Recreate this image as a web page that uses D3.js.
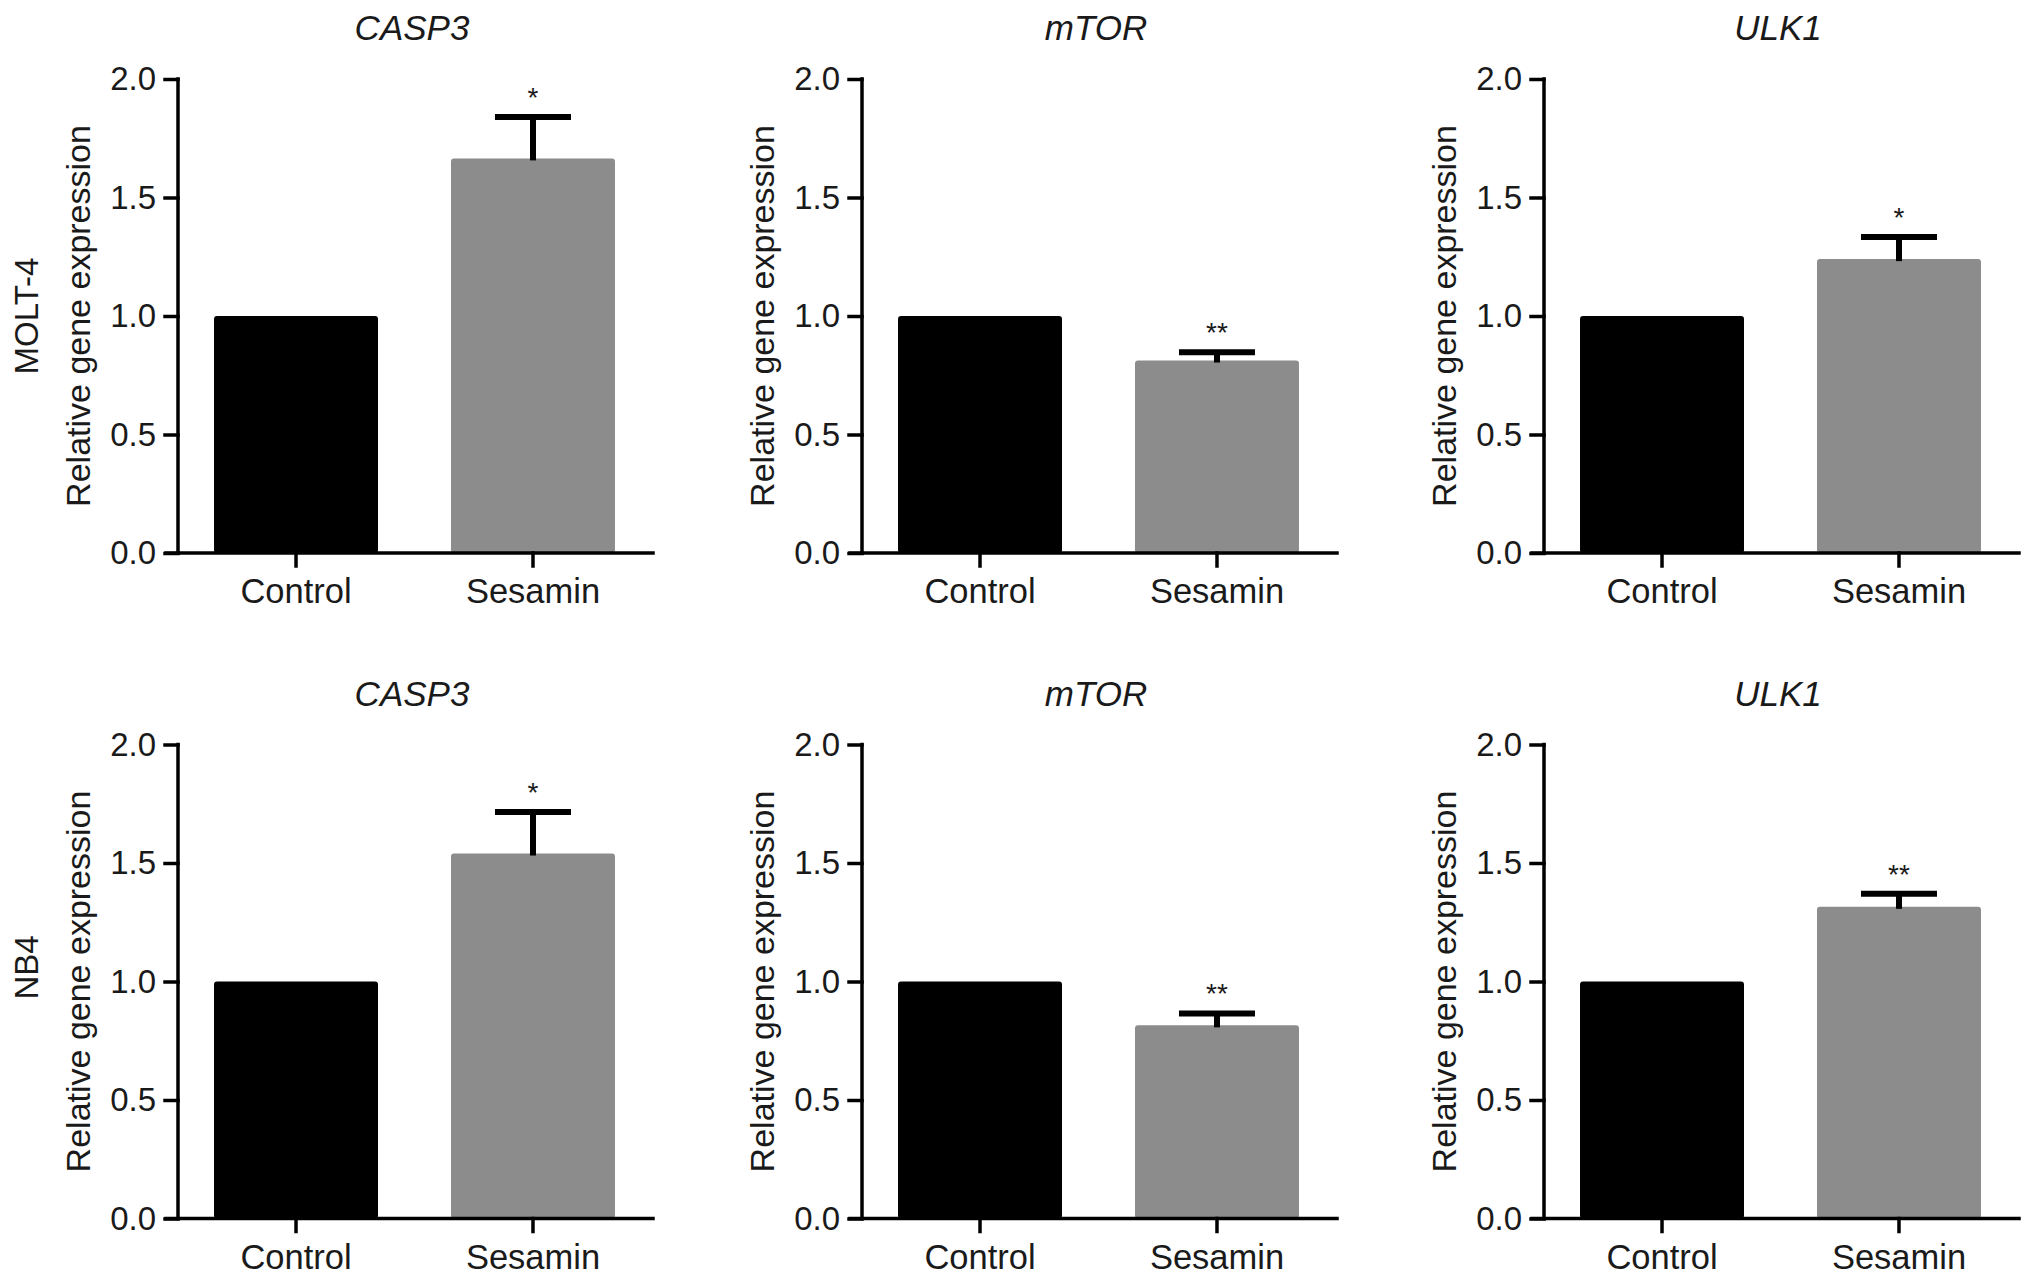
<!DOCTYPE html>
<html>
<head>
<meta charset="utf-8">
<script src="https://cdn.jsdelivr.net/npm/d3@7"></script>
<style>
  body { margin: 0; background: #fff; }
  svg { display: block; font-family: "Liberation Sans", Arial, Helvetica, sans-serif; }
</style>
</head>
<body>
<svg id="chart" width="2032" height="1283"></svg>
<script>
///////////////    Data    ////////////////

// Panel columns (genes) and rows (cell lines)
let genes = ["CASP3", "mTOR", "ULK1"];
let cellLines = ["MOLT-4", "NB4"];

// Bars in each panel
let groups = ["Control", "Sesamin"];

// Mean relative expression, one row per cell line, one entry per gene
let controlMean = [
  [1.0, 1.0, 1.0],
  [1.0, 1.0, 1.0],
];
let sesaminMean = [
  [1.665, 0.812, 1.24],
  [1.54, 0.815, 1.315],
];

// Upper error (SEM) of the Sesamin bars
let sesaminSem = [
  [0.175, 0.035, 0.093],
  [0.175, 0.05, 0.055],
];

// Significance marks above the Sesamin bars
let signif = [
  ["*", "**", "*"],
  ["*", "**", "**"],
];

let yTicks = [0, 0.5, 1.0, 1.5, 2.0];
let yTitle = "Relative gene expression";

///////////////    Layout    ////////////////

const colX = [178, 862, 1544]; // y axis position of each column
const rowY = [79, 744.5]; // top of the y axis (value 2.0) of each row
const plotH = 474;
const plotW = 475;

const barColors = { Control: "#000000", Sesamin: "#8c8c8c" };
const ink = "#1a1a1a";

let svg = d3.select("#chart");

// Draws one bar panel
function drawPanel(r, c) {
  let g = svg
    .append("g")
    .attr("transform", "translate(" + colX[c] + "," + rowY[r] + ")");

  let x = d3
    .scaleBand()
    .domain(groups)
    .range([0, 473])
    .paddingInner(0.308)
    .paddingOuter(0.152);

  let y = d3.scaleLinear().domain([0, 2]).range([plotH, 0]);

  let rows = [
    { group: "Control", mean: controlMean[r][c], sem: 0, mark: "" },
    {
      group: "Sesamin",
      mean: sesaminMean[r][c],
      sem: sesaminSem[r][c],
      mark: signif[r][c],
    },
  ];

  // bars
  g.selectAll(".bar")
    .data(rows)
    .enter()
    .append("rect")
    .attr("class", "bar")
    .attr("x", (d) => x(d.group))
    .attr("y", (d) => y(d.mean))
    .attr("width", x.bandwidth())
    .attr("height", (d) => y(0) - y(d.mean))
    .attr("rx", 3)
    .attr("fill", (d) => barColors[d.group]);

  let withErr = rows.filter((d) => d.sem > 0);

  // error bar stems
  g.selectAll(".stem")
    .data(withErr)
    .enter()
    .append("line")
    .attr("x1", (d) => x(d.group) + x.bandwidth() / 2)
    .attr("x2", (d) => x(d.group) + x.bandwidth() / 2)
    .attr("y1", (d) => y(d.mean) + 2)
    .attr("y2", (d) => y(d.mean + d.sem))
    .attr("stroke", "#000")
    .attr("stroke-width", 6);

  // error bar caps
  g.selectAll(".cap")
    .data(withErr)
    .enter()
    .append("line")
    .attr("x1", (d) => x(d.group) + x.bandwidth() / 2 - 38)
    .attr("x2", (d) => x(d.group) + x.bandwidth() / 2 + 38)
    .attr("y1", (d) => y(d.mean + d.sem))
    .attr("y2", (d) => y(d.mean + d.sem))
    .attr("stroke", "#000")
    .attr("stroke-width", 6);

  // asterisks
  g.selectAll(".mark")
    .data(withErr)
    .enter()
    .append("text")
    .attr("x", (d) => x(d.group) + x.bandwidth() / 2)
    .attr("y", (d) => y(d.mean + d.sem) - 10)
    .attr("text-anchor", "middle")
    .attr("font-size", 28)
    .attr("fill", ink)
    .text((d) => d.mark);

  // y axis
  let yAxis = g
    .append("g")
    .call(
      d3.axisLeft(y).tickValues(yTicks).tickFormat(d3.format(".1f")).tickSize(13).tickPadding(9)
    );
  yAxis.select(".domain").attr("d", "M0," + y(2) + "V" + y(0));

  // x axis
  let xAxis = g
    .append("g")
    .attr("transform", "translate(0," + plotH + ")")
    .call(d3.axisBottom(x).tickSize(13).tickPadding(13));
  xAxis.select(".domain").attr("d", "M-12,0H" + plotW);

  [yAxis, xAxis].forEach((a) => {
    a.selectAll(".domain, .tick line")
      .attr("stroke", "#000")
      .attr("stroke-width", 3.5)
      .attr("stroke-linecap", "square");
    a.selectAll(".tick text")
      .attr("font-size", 33)
      .attr("fill", ink)
      .attr("font-family", "Liberation Sans, Arial, sans-serif");
  });
  xAxis.selectAll(".tick text").attr("font-size", 34.5);

  // y axis title
  g.append("text")
    .attr("transform", "translate(-88," + plotH / 2 + ") rotate(-90)")
    .attr("text-anchor", "middle")
    .attr("font-size", 34)
    .attr("fill", ink)
    .text(yTitle);

  // gene title
  g.append("text")
    .attr("x", 234)
    .attr("y", -39)
    .attr("text-anchor", "middle")
    .attr("font-size", 35)
    .attr("font-style", "italic")
    .attr("fill", ink)
    .text(genes[c]);
}

for (let r = 0; r < cellLines.length; r++) {
  for (let c = 0; c < genes.length; c++) {
    drawPanel(r, c);
  }

  // cell line label at the left of the row
  svg
    .append("text")
    .attr("transform", "translate(38," + (rowY[r] + plotH / 2 - (r === 1 ? 14 : 0)) + ") rotate(-90)")
    .attr("text-anchor", "middle")
    .attr("font-size", 33)
    .attr("fill", ink)
    .text(cellLines[r]);
}
</script>
</body>
</html>
